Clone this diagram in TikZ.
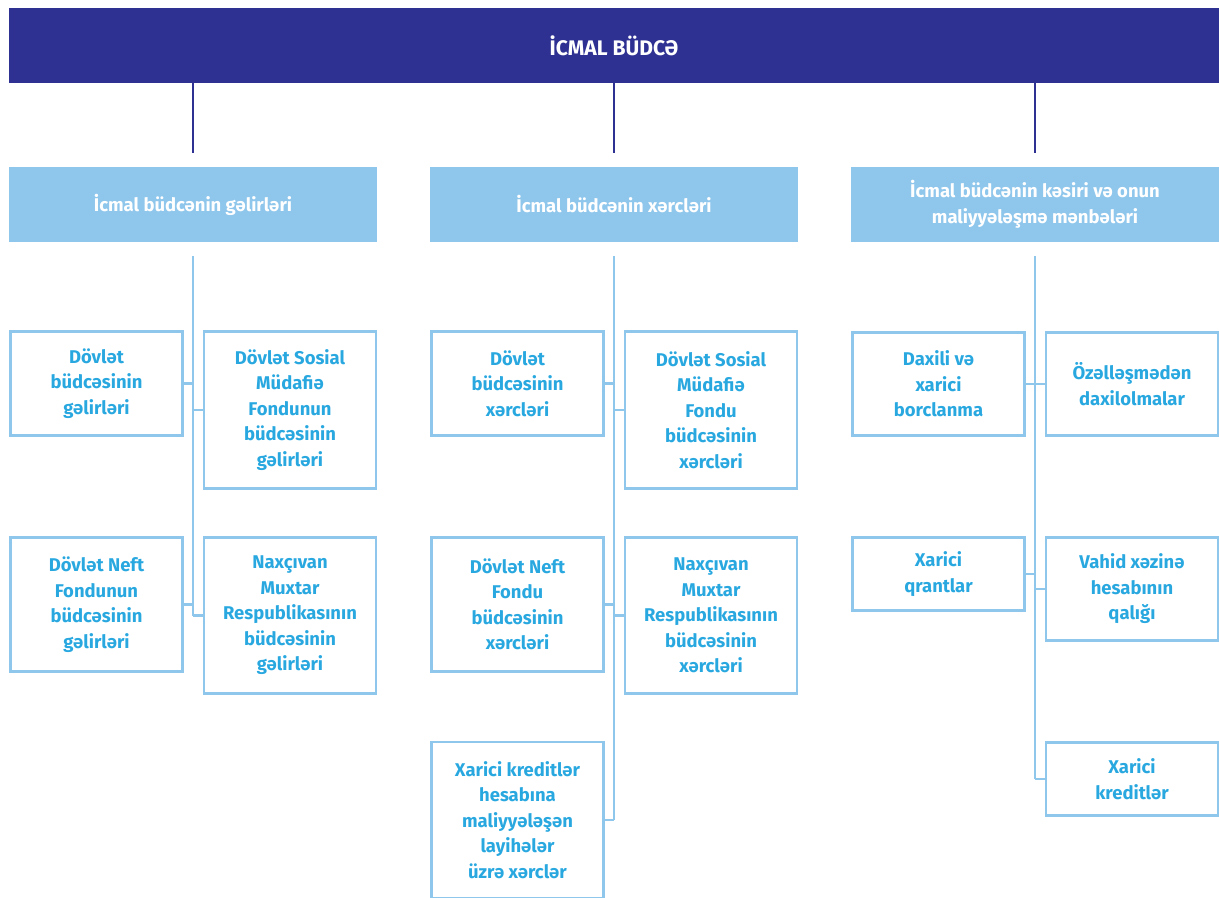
\documentclass[tikz,border=0pt]{standalone}
\usepackage{fontspec}
\setmainfont{Fira Sans}
\usetikzlibrary{positioning}
\definecolor{barblue}{HTML}{2E3192}
\definecolor{headblue}{HTML}{8EC6EC}
\definecolor{textblue}{HTML}{29A8E0}

\tikzset{
  topbar/.style={fill=barblue, text=white, inner sep=0pt,
    minimum width=24.2cm, minimum height=1.5cm,
    font=\fontsize{12}{14}\selectfont\bfseries},
  headbox/.style={fill=headblue, text=white, inner sep=0pt, align=center,
    minimum width=7.36cm, minimum height=1.5cm,
    font=\fontsize{10.5}{15}\selectfont\bfseries},
  itembox/.style={draw=headblue, line width=1.6pt, text=textblue, inner sep=0pt,
    align=center, minimum width=3.44cm,
    font=\fontsize{10.5}{14.5}\selectfont\bfseries},
  topline/.style={draw=barblue, line width=1.5pt},
  trunk/.style={draw=headblue, line width=1.6pt}
}

\begin{document}
\begin{tikzpicture}[x=0.02cm,y=-0.02cm]
    \useasboundingbox (0,0) rectangle (1219,898);

    % top
    \node[topbar] (cb) at (614,45.5) {İCMAL BÜDCƏ};

    % second level
    \node[headbox] (gel) at (193,204.5) {İcmal büdcənin gəlirləri};
    \node[headbox] (xer) at (614,204.5) {İcmal büdcənin xərcləri};
    \node[headbox] (kas) at (1035,204.5) {İcmal büdcənin kəsiri və onun\\maliyyələşmə mənbələri};

    \foreach \h in {gel,xer,kas}
        \draw[topline] (cb.south -| \h.north) -- ([yshift=0.28cm]\h.north);

    % gelirler
    \node[itembox, minimum height=2.08cm] (gDB) at (96.5,383.5) {Dövlət\\büdcəsinin\\gəlirləri};
    \node[itembox, minimum height=3.14cm] (gSM) at (290,410) {Dövlət Sosial\\Müdafiə\\Fondunun\\büdcəsinin\\gəlirləri};
    \node[itembox, minimum height=2.68cm] (gNF) at (96.5,604.5) {Dövlət Neft\\Fondunun\\büdcəsinin\\gəlirləri};
    \node[itembox, minimum height=3.12cm] (gNM) at (290,615.5) {Naxçıvan\\Muxtar\\Respublikasının\\büdcəsinin\\gəlirləri};

    % xercler
    \node[itembox, minimum height=2.08cm] (xDB) at (517.5,383.5) {Dövlət\\büdcəsinin\\xərcləri};
    \node[itembox, minimum height=3.14cm] (xSM) at (711,410) {Dövlət Sosial\\Müdafiə\\Fondu\\büdcəsinin\\xərcləri};
    \node[itembox, minimum height=2.68cm] (xNF) at (517.5,604.5) {Dövlət Neft\\Fondu\\büdcəsinin\\xərcləri};
    \node[itembox, minimum height=3.12cm] (xNM) at (711,615.5) {Naxçıvan\\Muxtar\\Respublikasının\\büdcəsinin\\xərcləri};
    \node[itembox, minimum height=3.12cm] (xXK) at (517.5,820) {Xarici kreditlər\\hesabına\\maliyyələşən\\layihələr\\üzrə xərclər};

    % kesir
    \node[itembox, minimum height=2.06cm] (kDB) at (938.5,384) {Daxili və\\xarici\\borclanma};
    \node[itembox, minimum height=2.06cm] (kOZ) at (1132,384) {Özəlləşmədən\\daxilolmalar};
    \node[itembox, minimum height=1.46cm] (kQR) at (938.5,574) {Xarici\\qrantlar};
    \node[itembox, minimum height=2.06cm] (kVX) at (1132,589) {Vahid xəzinə\\hesabının\\qalığı};
    \node[itembox, minimum height=1.46cm] (kXK) at (1132,779) {Xarici\\kreditlər};

    % trunks
    \coordinate[below=0.28cm of gel] (tg);
    \coordinate[below=0.28cm of xer] (tx);
    \coordinate[below=0.28cm of kas] (tk);

    \draw[trunk] (tg) -- (tg |- gNM.west);
    \foreach \n in {gDB,gNF} \draw[trunk] (\n.east) -- (\n.east -| tg);
    \foreach \n in {gSM,gNM} \draw[trunk] (\n.west) -- (\n.west -| tg);

    \draw[trunk] (tx) -- (tx |- xXK.east);
    \foreach \n in {xDB,xNF,xXK} \draw[trunk] (\n.east) -- (\n.east -| tx);
    \foreach \n in {xSM,xNM} \draw[trunk] (\n.west) -- (\n.west -| tx);

    \draw[trunk] (tk) -- (tk |- kXK.west);
    \foreach \n in {kDB,kQR} \draw[trunk] (\n.east) -- (\n.east -| tk);
    \foreach \n in {kOZ,kVX,kXK} \draw[trunk] (\n.west) -- (\n.west -| tk);

\end{tikzpicture}
\end{document}
